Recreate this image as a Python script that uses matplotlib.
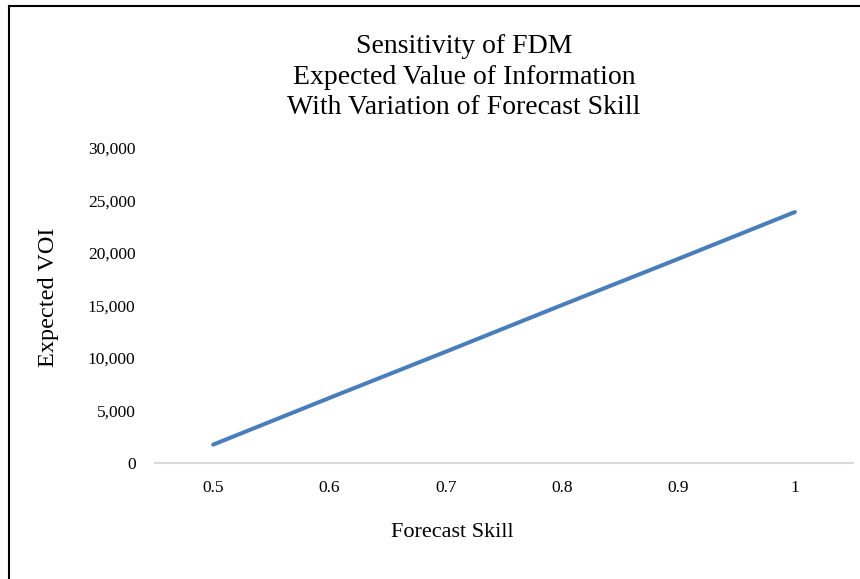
import matplotlib.pyplot as plt
from matplotlib.lines import Line2D
from matplotlib.ticker import FuncFormatter

plt.rcParams['font.family'] = ['Liberation Serif', 'DejaVu Serif']

# data
skill = ["0.5", "0.6", "0.7", "0.8", "0.9", "1"]
voi = [1750, 6200, 10600, 15050, 19450, 23900]
y_ticks = [0, 5000, 10000, 15000, 20000, 25000, 30000]

fig = plt.figure(figsize=(8.6, 5.79), dpi=100)
ax = fig.add_axes([155 / 860, 116 / 579, 698 / 860, 315 / 579])

x = list(range(len(skill)))
ax.plot(x, voi, color="#4a7ebb", lw=2.9, solid_capstyle="round")

ax.set_xlim(-0.5, len(skill) - 0.5)
ax.set_ylim(0, 30000)
ax.set_xticks(x)
ax.set_xticklabels(skill)
ax.set_yticks(y_ticks)
ax.yaxis.set_major_formatter(FuncFormatter(lambda v, p: f"{int(v):,}"))
ax.tick_params(axis="both", length=0, labelsize=12.5, colors="#000000")
ax.tick_params(axis="y", pad=14)
ax.tick_params(axis="x", pad=12)

for s in ["top", "right", "left"]:
    ax.spines[s].set_visible(False)
ax.spines["bottom"].set_color("#d9d9d9")
ax.spines["bottom"].set_linewidth(1.5)

ax.set_xlabel("Forecast Skill", fontsize=16)
ax.xaxis.set_label_coords(0.4255, -0.19)
ax.set_ylabel("Expected VOI", fontsize=17.5)
ax.yaxis.set_label_coords(-0.1375, 0.525)

fig.text(464 / 860, 1 - 77 / 579,
         "Sensitivity of FDM\nExpected Value of Information\nWith Variation of Forecast Skill",
         ha="center", va="center", fontsize=20, linespacing=1.3)

# border of the chart area (only top and left show)
fig.add_artist(Line2D([9 / 860, 9 / 860], [0, 1 - 6 / 579], color="black", lw=1.5,
                      transform=fig.transFigure))
fig.add_artist(Line2D([9 / 860, 1], [1 - 6 / 579, 1 - 6 / 579], color="black", lw=1.5,
                      transform=fig.transFigure))

fig.savefig("out.png", dpi=100)
